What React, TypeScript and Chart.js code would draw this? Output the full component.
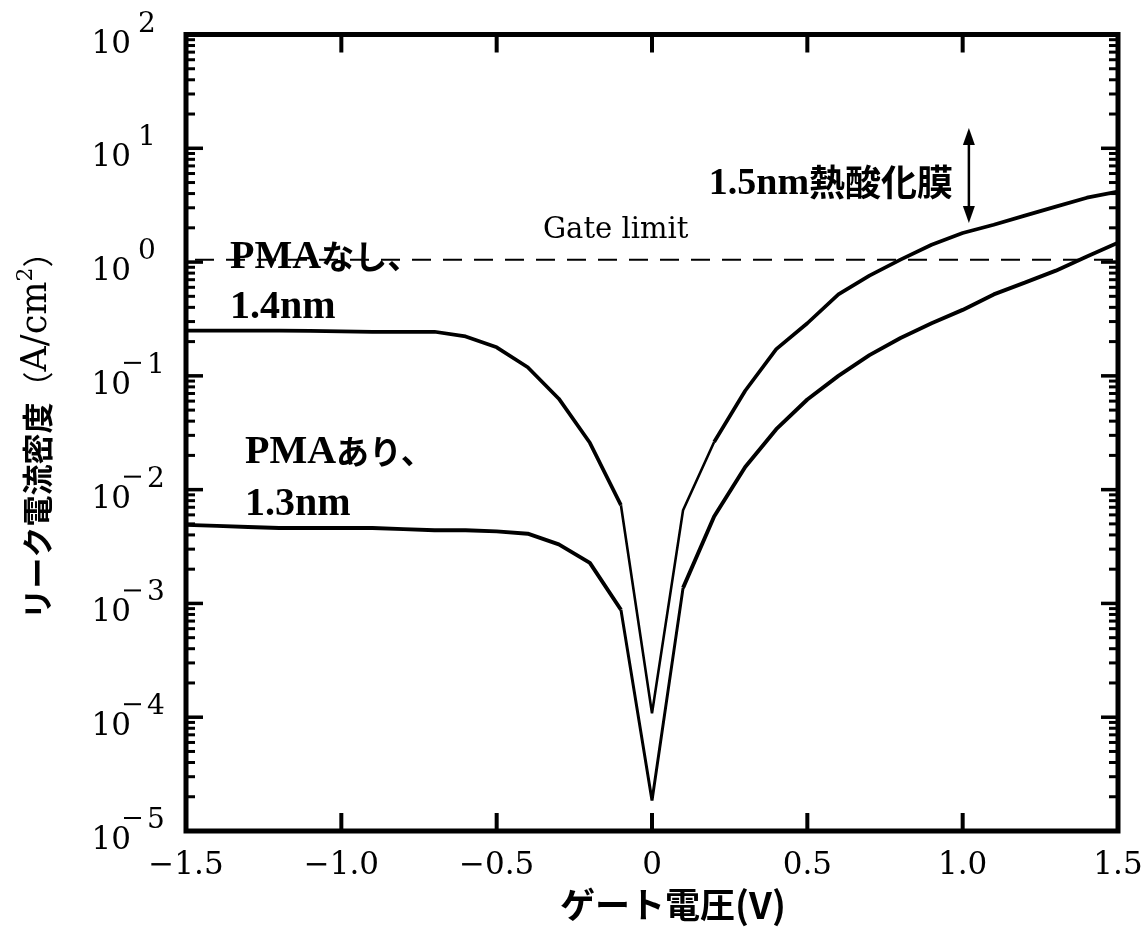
import React, { useEffect, useRef } from "react";
import { Chart, registerables } from "chart.js";

Chart.register(...registerables);

// Gate voltage (V)
const voltage = [
  -1.5, -1.4, -1.3, -1.2, -1.1, -1.0, -0.9, -0.8, -0.7, -0.6, -0.5, -0.4, -0.3, -0.2, -0.1,
  0, 0.1, 0.2, 0.3, 0.4, 0.5, 0.6, 0.7, 0.8, 0.9, 1.0, 1.1, 1.2, 1.3, 1.4, 1.5,
];

// Leak current density (A/cm2): PMAなし、1.4nm
const pmaNone = [
  0.25, 0.25, 0.25, 0.25, 0.248, 0.246, 0.244, 0.244, 0.244, 0.222, 0.178, 0.119, 0.063, 0.0258, 0.0073,
  1.08e-4, 0.0066, 0.0262, 0.074, 0.172, 0.29, 0.52, 0.76, 1.05, 1.42, 1.8, 2.13, 2.56, 3.07, 3.68, 4.16,
];

// Leak current density (A/cm2): PMAあり、1.3nm
const pmaWith = [
  0.0049, 0.0048, 0.0047, 0.0046, 0.0046, 0.0046, 0.0046, 0.0045, 0.0044, 0.0044, 0.0043, 0.0041, 0.0033, 0.00227, 0.00088,
  1.85e-5, 0.00137, 0.0058, 0.0158, 0.034, 0.062, 0.1, 0.152, 0.215, 0.29, 0.38, 0.52, 0.66, 0.84, 1.12, 1.48,
];

const gateLimit = 1.05;
const thermalArrow = [15.1, 2.21]; // top / bottom of the 1.5nm thermal oxide arrow
const thermalArrowV = 1.02;

const xTicks = [-1.5, -1.0, -0.5, 0, 0.5, 1.0, 1.5];
const xTickLabels = ["\u22121.5", "\u22121.0", "\u22120.5", "0", "0.5", "1.0", "1.5"];
const yExponents = [2, 1, 0, -1, -2, -3, -4, -5];

const SERIF = "'DejaVu Serif', 'Liberation Serif', serif";
const BSERIF = "'Liberation Serif', 'DejaVu Serif', serif";
const JP = "'Noto Sans CJK JP', sans-serif";

type Run = { t: string; f: string; dy?: number };

function runsWidth(ctx: CanvasRenderingContext2D, runs: Run[]) {
  let w = 0;
  runs.forEach((r) => {
    ctx.font = r.f;
    w += ctx.measureText(r.t).width;
  });
  return w;
}

function drawRuns(ctx: CanvasRenderingContext2D, x: number, y: number, runs: Run[], align: "left" | "right" | "center") {
  const total = runsWidth(ctx, runs);
  let cx = align === "left" ? x : align === "right" ? x - total : x - total / 2;
  ctx.textAlign = "left";
  runs.forEach((r) => {
    ctx.font = r.f;
    ctx.fillText(r.t, cx, y + (r.dy || 0));
    cx += ctx.measureText(r.t).width;
  });
}

const framePlugin = {
  id: "frame",
  afterDraw(chart: any) {
    const ctx: CanvasRenderingContext2D = chart.ctx;
    const xs = chart.scales.x;
    const ys = chart.scales.y;
    const { left, right, top, bottom } = chart.chartArea;
    ctx.save();
    ctx.fillStyle = "#000";
    ctx.strokeStyle = "#000";

    // frame
    ctx.lineWidth = 5;
    ctx.lineJoin = "miter";
    ctx.strokeRect(left, top, right - left, bottom - top);

    // y ticks (major + minor, both sides, inward)
    for (let e = -5; e <= 2; e++) {
      for (let m = 1; m <= 9; m++) {
        const v = m * Math.pow(10, e);
        if (v > 100.0001) break;
        const y = ys.getPixelForValue(v);
        const len = m === 1 ? 17 : 9;
        const w = m === 1 ? 3.5 : 3;
        ctx.fillRect(left, y - w / 2, len, w);
        ctx.fillRect(right - len, y - w / 2, len, w);
      }
    }
    // x ticks
    xTicks.forEach((v) => {
      const x = xs.getPixelForValue(v);
      ctx.fillRect(x - 2, bottom - 18, 4, 18);
      ctx.fillRect(x - 2, top, 4, 18);
    });

    // x tick labels
    ctx.textBaseline = "alphabetic";
    xTicks.forEach((v, i) => {
      const x = xs.getPixelForValue(v);
      ctx.font = `31px ${SERIF}`;
      ctx.textAlign = "center";
      ctx.fillText(xTickLabels[i], x, 874);
    });

    // y tick labels 10^n
    yExponents.forEach((e) => {
      const y = ys.getPixelForValue(Math.pow(10, e));
      ctx.font = `31px ${SERIF}`;
      ctx.textAlign = "right";
      ctx.fillText("10", 131, y + 18);
      ctx.font = `28px ${SERIF}`;
      ctx.textAlign = "left";
      const d = String(Math.abs(e));
      if (e < 0) {
        ctx.fillRect(124, y - 14, 17, 2);
        ctx.fillText(d, 147, y - 3);
      } else {
        ctx.fillText(d, 138, y - 3);
      }
    });

    // axis titles
    ctx.textBaseline = "middle";
    drawRuns(
      ctx,
      673,
      905,
      [
        { t: "ゲート電圧", f: `bold 35px ${JP}` },
        { t: "(V)", f: `bold 37px ${JP}` },
      ],
      "center"
    );
    ctx.save();
    ctx.translate(37, 428);
    ctx.rotate(-Math.PI / 2);
    drawRuns(
      ctx,
      0,
      0,
      [
        { t: "リーク電流密度", f: `bold 31px ${JP}` },
        { t: "（", f: `31px ${JP}` },
        { t: "A/cm", f: `35px ${SERIF}` },
        { t: "2", f: `22px ${SERIF}`, dy: -11 },
        { t: "）", f: `31px ${JP}` },
      ],
      "center"
    );
    ctx.restore();

    // annotations
    ctx.textBaseline = "alphabetic";
    const px = (v: number) => xs.getPixelForValue(v);
    const py = (v: number) => ys.getPixelForValue(v);
    ctx.font = `29px ${SERIF}`;
    ctx.textAlign = "left";
    ctx.fillText("Gate limit", px(-0.351), py(1.63));

    drawRuns(ctx, px(-1.358), py(0.887), [
      { t: "PMA", f: `bold 40px ${BSERIF}` },
      { t: "なし、", f: `bold 33px ${JP}`, dy: 1 },
    ], "left");
    drawRuns(ctx, px(-1.358), py(0.323), [{ t: "1.4nm", f: `bold 40px ${BSERIF}` }], "left");
    drawRuns(ctx, px(-1.31), py(0.01718), [
      { t: "PMA", f: `bold 40px ${BSERIF}` },
      { t: "あり、", f: `bold 33px ${JP}`, dy: 1 },
    ], "left");
    drawRuns(ctx, px(-1.31), py(0.006), [{ t: "1.3nm", f: `bold 40px ${BSERIF}` }], "left");

    drawRuns(ctx, px(0.969), py(4.0), [
      { t: "1.5nm", f: `bold 38px ${BSERIF}` },
      { t: "熱酸化膜", f: `bold 36px ${JP}`, dy: 2 },
    ], "right");

    // double arrow
    const ax = px(thermalArrowV);
    const ay1 = py(thermalArrow[0]);
    const ay2 = py(thermalArrow[1]);
    ctx.lineWidth = 2.5;
    ctx.beginPath();
    ctx.moveTo(ax, ay1 + 14);
    ctx.lineTo(ax, ay2 - 14);
    ctx.stroke();
    ctx.beginPath();
    ctx.moveTo(ax, ay1);
    ctx.lineTo(ax - 6, ay1 + 17);
    ctx.lineTo(ax + 6, ay1 + 17);
    ctx.closePath();
    ctx.fill();
    ctx.beginPath();
    ctx.moveTo(ax, ay2);
    ctx.lineTo(ax - 6, ay2 - 17);
    ctx.lineTo(ax + 6, ay2 - 17);
    ctx.closePath();
    ctx.fill();

    ctx.restore();
  },
};

export default function App() {
  const ref = useRef<HTMLCanvasElement | null>(null);
  useEffect(() => {
    if (!ref.current) return;
    const thin = (idxs: number[], thinW: number, thickW: number) => (c: any) =>
      idxs.includes(c.p0DataIndex) ? thinW : thickW;
    const chart = new Chart(ref.current, {
      type: "line",
      data: {
        datasets: [
          {
            label: "Gate limit",
            data: [
              { x: -1.5, y: gateLimit },
              { x: 1.5, y: gateLimit },
            ],
            borderColor: "#000",
            borderWidth: 2,
            borderDash: [19, 12],
            borderDashOffset: 22,
            pointRadius: 0,
            tension: 0,
          },
          {
            label: "PMAなし、1.4nm",
            data: voltage.map((v, i) => ({ x: v, y: pmaNone[i] })),
            borderColor: "#000",
            borderWidth: 3.7,
            pointRadius: 0,
            tension: 0,
            borderJoinStyle: "bevel",
            segment: { borderWidth: thin([14, 15, 16], 2.6, 3.7) },
          },
          {
            label: "PMAあり、1.3nm",
            data: voltage.map((v, i) => ({ x: v, y: pmaWith[i] })),
            borderColor: "#000",
            borderWidth: 3.9,
            pointRadius: 0,
            tension: 0,
            borderJoinStyle: "bevel",
            segment: { borderWidth: thin([14, 15], 3, 3.9) },
          },
        ],
      },
      options: {
        animation: false,
        responsive: false,
        devicePixelRatio: 1,
        layout: { padding: { left: 186, top: 34.5, right: 24, bottom: 111 } },
        plugins: { legend: { display: false }, tooltip: { enabled: false }, title: { display: false } },
        scales: {
          x: { type: "linear", min: -1.5, max: 1.5, display: false },
          y: { type: "logarithmic", min: 1e-5, max: 100, display: false },
        },
      },
      plugins: [framePlugin],
    });
    return () => chart.destroy();
  }, []);
  return (
    <div style={{ position: "absolute", left: 0, top: 0, width: 1142, height: 942, background: "#fff" }}>
      <canvas ref={ref} width={1142} height={942} />
    </div>
  );
}
